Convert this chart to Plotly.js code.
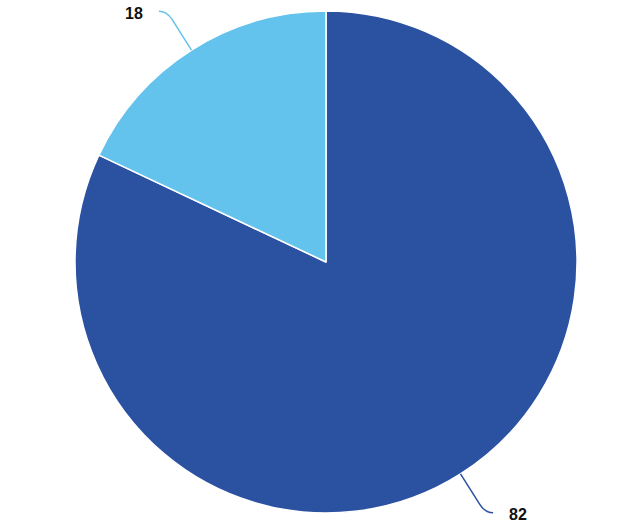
<!DOCTYPE html>
<html>
<head>
<meta charset="utf-8">
<script src="https://cdn.plot.ly/plotly-3.0.1.min.js"></script>
<style>
  html, body { margin: 0; padding: 0; background: #fff; }
  #pieChart { width: 640px; height: 528px; }
</style>
</head>
<body>
<div id="pieChart"></div>
<script>
// values
const labels = ["A", "B"]
const values = [82, 18]
const colors = ["#2b51a1", "#63c3ec"]

const W = 640, H = 528
const m = {l: 75, r: 63, t: 11, b: 15}
const pw = W - m.l - m.r, ph = H - m.t - m.b
const cx = m.l + pw / 2, cy = m.t + ph / 2
const R = Math.min(pw, ph) / 2

function toPaper(px, py){
  return [(px - m.l) / pw, 1 - (py - m.t) / ph]
}

function polar(angleDeg, r){
  // angle measured clockwise from 12 o'clock
  let a = angleDeg * Math.PI / 180
  return [cx + r * Math.sin(a), cy - r * Math.cos(a)]
}

// leader lines + labels, placed at the middle of each slice
let shapes = []
let annotations = []
let total = values.reduce((s, v) => s + v, 0)
let start = 0
for (let i = 0; i < values.length; i++) {
  let mid = start + values[i] / total * 360 / 2
  start += values[i] / total * 360
  let e = polar(mid, R)
  let a = polar(mid, R + 36)
  let c = polar(mid, R + 46)
  let side = Math.sin(mid * Math.PI / 180) >= 0 ? 1 : -1
  let b = [c[0] + side * 8, c[1]]
  let pts = [e, a, c, b].map(p => toPaper(p[0], p[1]))
  shapes.push({
    type: "path", xref: "paper", yref: "paper",
    path: "M " + pts[0].join(",") + " L " + pts[1].join(",") +
          " Q " + pts[2].join(",") + " " + pts[3].join(","),
    line: {color: colors[i], width: 1.5}
  })
  let t = toPaper(b[0] + side * 14, b[1] + 2)
  annotations.push({
    xref: "paper", yref: "paper", x: t[0], y: t[1],
    text: "<b>" + values[i] + "</b>", showarrow: false,
    xanchor: side > 0 ? "left" : "right", yanchor: "middle",
    font: {family: "Liberation Sans, Arial, sans-serif", size: 16, color: "#111"}
  })
}

let data = [{
  type: "pie",
  labels: labels,
  values: values,
  sort: false,
  direction: "clockwise",
  rotation: 0,
  textinfo: "none",
  hoverinfo: "none",
  marker: {colors: colors, line: {color: "#ffffff", width: 1.5}}
}]

let layout = {
  width: W, height: H,
  margin: m,
  showlegend: false,
  paper_bgcolor: "#ffffff",
  shapes: shapes,
  annotations: annotations
}

Plotly.newPlot("pieChart", data, layout, {staticPlot: true})
</script>
</body>
</html>
